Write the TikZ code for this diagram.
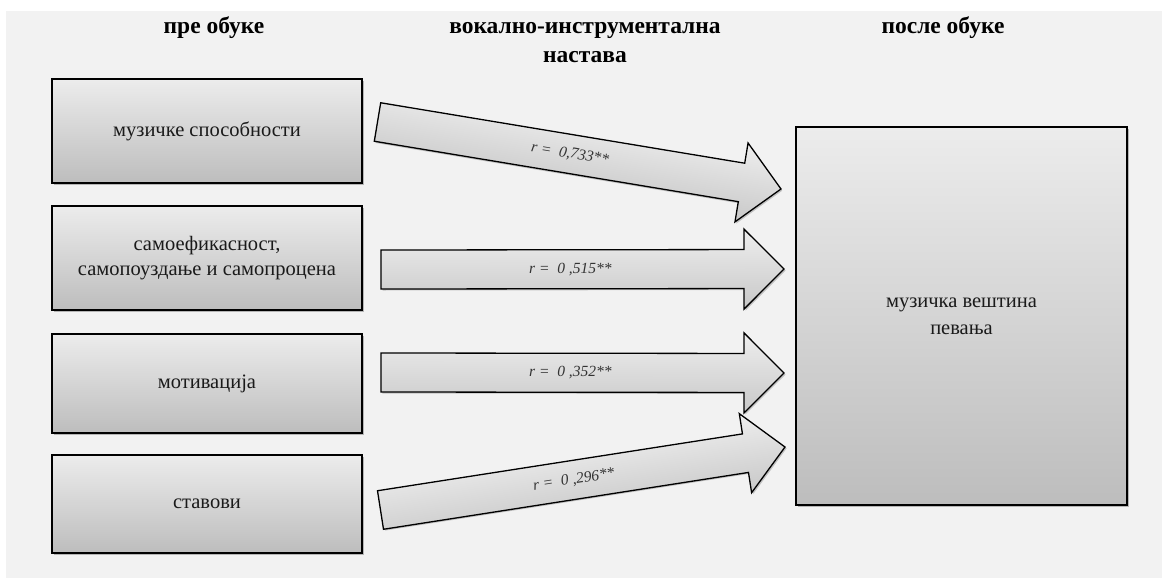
\documentclass[tikz,border=0pt]{standalone}
\usepackage{fontspec}
\setmainfont{Liberation Serif}
\usetikzlibrary{calc,shadows}
\definecolor{bgc}{HTML}{F2F2F2}
\definecolor{boxtop}{HTML}{ECECEC}
\definecolor{boxbot}{HTML}{BDBDBD}
\definecolor{arrtop}{HTML}{EEEEEE}
\definecolor{arrbot}{HTML}{C8C8C8}
\definecolor{txt}{HTML}{1A1A1A}
\definecolor{lbl}{HTML}{333333}
\newdimen\arrdx
\newdimen\arrdy
\newcommand\blkarrow[5]{%
  \pgfmathanglebetweenpoints{\pgfpointanchor{#1}{center}}{\pgfpointanchor{#2}{center}}%
  \edef\arrang{\pgfmathresult}%
  \pgfextractx{\arrdx}{\pgfpointdiff{\pgfpointanchor{#1}{center}}{\pgfpointanchor{#2}{center}}}%
  \pgfextracty{\arrdy}{\pgfpointdiff{\pgfpointanchor{#1}{center}}{\pgfpointanchor{#2}{center}}}%
  \pgfmathsetmacro\arrlen{veclen(\arrdx,\arrdy)}%
  \pgfmathsetmacro\arrbase{\arrlen-40}%
  \pgfmathsetmacro\arrlblx{#5*\arrlen}%
  \begin{scope}[transform canvas={shift={(#1)}, rotate=\arrang}, x=1pt, y=1pt]
    \path[blockarrow] (0,19.5) -- (\arrbase,19.5) -- (\arrbase,40) -- (\arrlen,0)
      -- (\arrbase,-40) -- (\arrbase,-19.5) -- (0,-19.5) -- cycle;
    \node[arrlabel] (#1l) at (\arrlblx,0) {#4};
  \end{scope}
}
\tikzset{
  srcbox/.style={draw=black, line width=1.4pt, top color=boxtop, bottom color=boxbot,
    minimum width=310pt, inner sep=0pt, outer sep=0pt, align=center, text=txt,
    font=\fontsize{20.5}{25}\selectfont,
    drop shadow={shadow xshift=2pt, shadow yshift=-2pt, opacity=0.25, fill=black}},
  blockarrow/.style={draw=black, line width=1.3pt, top color=arrtop, bottom color=arrbot,
    drop shadow={shadow xshift=1.5pt, shadow yshift=-1.5pt, opacity=0.2, fill=black}},
  arrlabel/.style={font=\fontsize{15.5}{18}\selectfont\itshape, text=lbl, inner sep=0pt},
  hdr/.style={font=\fontsize{23.5}{29}\selectfont\bfseries, text=black, align=center, inner sep=0pt}
}
\begin{document}
\begin{tikzpicture}[x=1pt, y=-1pt]
  \useasboundingbox (0,0) rectangle (1162,579);
  \fill[white] (0,0) rectangle (1162,579);
  \fill[bgc] (6,11) rectangle (1162,578);

  \node[hdr] (h1) at (214,28) {пре обуке};
  \node[hdr] (h2) at (585,42.5) {вокално-инструментална\\настава};
  \node[hdr] (h3) at (943,28) {после обуке};

  \node[srcbox, minimum height=104pt] (b1) at (207,131) {музичке способности};
  \node[srcbox, minimum height=104pt] (b2) at (207,258) {самоефикасност,\\самопоуздање и самопроцена};
  \node[srcbox, minimum height=99pt] (b3) at (207,383.5) {мотивација};
  \node[srcbox, minimum height=98pt] (b4) at (207,504) {ставови};

  \node[srcbox, minimum width=331pt, minimum height=378pt, font=\fontsize{20.5}{27}\selectfont] (res) at (961.5,316) {музичка вештина\\певања};

  \coordinate (a1s) at (377.5,122);
  \coordinate (a1e) at ($(res.west)+(-15,-127)$);
  \coordinate (a2s) at (381,269.5);
  \coordinate (a2e) at ($(res.west)+(-12,-47)$);
  \coordinate (a3s) at (381,372.5);
  \coordinate (a3e) at ($(res.west)+(-12,57)$);
  \coordinate (a4s) at (380.5,510);
  \coordinate (a4e) at ($(res.west)+(-11,131)$);

  \blkarrow{a1s}{a1e}{0}{r =\ \ 0,733**}{0.477}
  \blkarrow{a2s}{a2e}{0}{r =\ \ 0 ,515**}{0.47}
  \blkarrow{a3s}{a3e}{0}{r =\ \ 0 ,352**}{0.47}
  \blkarrow{a4s}{a4e}{0}{r =\ \ 0 ,296**}{0.478}
\end{tikzpicture}
\end{document}
